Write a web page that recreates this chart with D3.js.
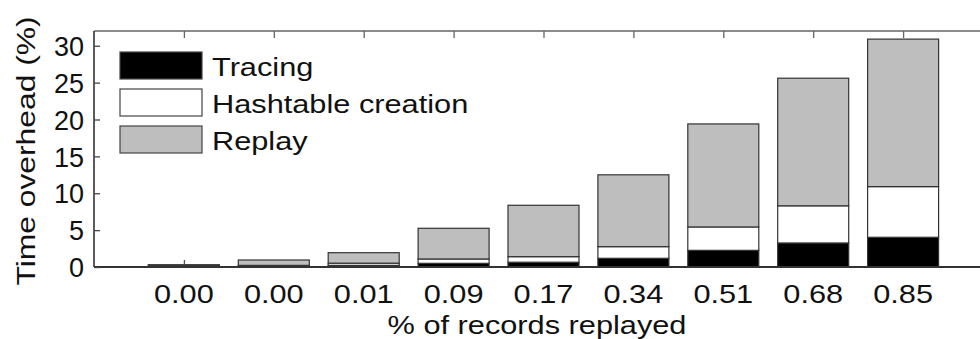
<!DOCTYPE html>
<html>
<head>
<meta charset="utf-8">
<script src="https://cdn.jsdelivr.net/npm/d3@7"></script>
<style>
  html, body { margin: 0; padding: 0; background: #fff; }
  svg { display: block; }
  text { font-family: "Liberation Sans", Arial, Helvetica, sans-serif; fill: #111; }
</style>
</head>
<body>
<svg id="chart" width="980" height="339"></svg>
<script>
// ---- data ----
const categories = ["0.00", "0.00", "0.01", "0.09", "0.17", "0.34", "0.51", "0.68", "0.85"];
const tracing    = [0.22, 0.12, 0.22, 0.50, 0.65, 1.18, 2.26, 3.26, 4.03];
const hashtable  = [0.03, 0.10, 0.30, 0.59, 0.75, 1.58, 3.17, 5.04, 6.87];
const replay     = [0.05, 0.73, 1.42, 4.16, 6.97, 9.74, 13.97, 17.30, 20.00];
const seriesNames = ["Tracing", "Hashtable creation", "Replay"];
const seriesColors = ["#000000", "#ffffff", "#bebebe"];
const yTicks = [0, 5, 10, 15, 20, 25, 30];
const xTitle = "% of records replayed";
const yTitle = "Time overhead (%)";

// ---- layout ----
const svg = d3.select("#chart");
const pL = 94, pT = 31, pB = 267, pR = 993;
const FS = 26.5, SX = 1.16;

const x = d3.scaleLinear().domain([0, categories.length + 1]).range([pL, pR]);
const y = d3.scaleLinear().domain([0, 32]).range([pB, pT]);
const barW = 71;

function stretchedText(px, py, str, anchor, rot, sx) {
  return svg.append("text")
    .attr("transform", `translate(${px},${py}) rotate(${rot || 0}) scale(${sx || SX},1)`)
    .attr("text-anchor", anchor || "start")
    .attr("font-size", FS)
    .text(str);
}

const rows = categories.map((c, i) => ({ i, Tracing: tracing[i], "Hashtable creation": hashtable[i], Replay: replay[i] }));
const stack = d3.stack().keys(seriesNames)(rows);

// bottom ticks (inward), drawn first so bars cover them
const botAxis = d3.axisBottom(x).tickValues(categories.map((c, i) => i + 1)).tickSize(-7).tickFormat("");
const gb = svg.append("g").attr("transform", `translate(0,${pB})`).call(botAxis);
gb.select(".domain").remove();
gb.selectAll(".tick line").attr("stroke", "#555").attr("stroke-width", 1.3);

// bars
stack.forEach((layer, k) => {
  svg.append("g").selectAll("rect").data(layer).join("rect")
    .attr("x", d => x(d.data.i + 1) - barW / 2)
    .attr("width", barW)
    .attr("y", d => y(d[1]))
    .attr("height", d => Math.max(0, y(d[0]) - y(d[1])))
    .attr("fill", seriesColors[k])
    .attr("stroke", "#333")
    .attr("stroke-width", 1.2);
});

// frame (left, top, bottom)
svg.append("line").attr("x1", pL).attr("x2", 980).attr("y1", pT).attr("y2", pT)
  .attr("stroke", "#666").attr("stroke-width", 1.6);
svg.append("line").attr("x1", pL).attr("x2", 980).attr("y1", pB).attr("y2", pB)
  .attr("stroke", "#333").attr("stroke-width", 2);
svg.append("line").attr("x1", pL).attr("x2", pL).attr("y1", pT).attr("y2", pB)
  .attr("stroke", "#333").attr("stroke-width", 1.6);

// y axis ticks (inward) + labels
const yAxis = d3.axisLeft(y).tickValues(yTicks).tickSize(-6).tickPadding(12).tickFormat(d3.format("d"));
const gy = svg.append("g").attr("transform", `translate(${pL},0)`).call(yAxis);
gy.select(".domain").remove();
gy.selectAll(".tick line").attr("stroke", "#444").attr("stroke-width", 1.3);
gy.selectAll(".tick text").attr("font-size", 27).attr("fill", "#111")
  .attr("font-family", "Liberation Sans, Arial, sans-serif").attr("x", -10).attr("dy", "0.36em");

// top ticks (inward)
const topAxis = d3.axisTop(x).tickValues(categories.map((c, i) => i + 1)).tickSize(-7).tickFormat("");
const gt = svg.append("g").attr("transform", `translate(0,${pT})`).call(topAxis);
gt.select(".domain").remove();
gt.selectAll(".tick line").attr("stroke", "#666").attr("stroke-width", 1.3);

// x category labels
categories.forEach((c, i) => stretchedText(x(i + 1), 303, c, "middle"));

// axis titles
stretchedText(537, 334, xTitle, "middle");
stretchedText(35, (pT + pB) / 2 + 2, yTitle, "middle", -90, 1.2);

// legend
const legY = [52, 89, 126];
seriesNames.forEach((name, k) => {
  svg.append("rect").attr("x", 120).attr("y", legY[k]).attr("width", 82).attr("height", 27)
    .attr("fill", seriesColors[k]).attr("stroke", "#444").attr("stroke-width", 1.2);
  stretchedText(212, legY[k] + 24, name, "start");
});
</script>
</body>
</html>
